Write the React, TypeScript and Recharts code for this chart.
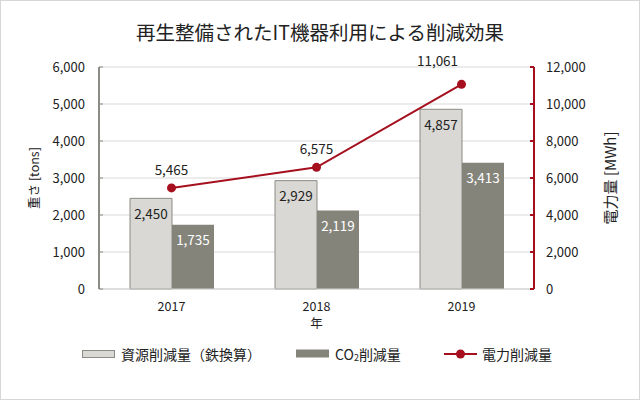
import React from 'react';
import {
  ComposedChart,
  Bar,
  Line,
  XAxis,
  YAxis,
  CartesianGrid,
  LabelList,
  Legend,
  Label,
} from 'recharts';

const years = ['2017', '2018', '2019'];
const resourceReduction = [2450, 2929, 4857];
const co2Reduction = [1735, 2119, 3413];
const powerReduction = [5465, 6575, 11061];
const leftTicks = [0, 1000, 2000, 3000, 4000, 5000, 6000];
const rightTicks = [0, 2000, 4000, 6000, 8000, 10000, 12000];

const seriesNames = ['資源削減量（鉄換算）', 'CO2削減量', '電力削減量'];
const titleText = '再生整備されたIT機器利用による削減効果';
const leftAxisTitle = '重さ [tons]';
const rightAxisTitle = '電力量 [MWh]';
const xAxisTitle = '年';

const data = years.map((y, i) => ({
  year: y,
  resource: resourceReduction[i],
  co2: co2Reduction[i],
  power: powerReduction[i],
}));

const FONT = '"Noto Sans CJK JP", "Noto Sans", sans-serif';
const LIGHT = '#d9d8d4';
const LIGHT_STROKE = '#8c8b84';
const DARK = '#85847b';
const RED = '#a50f1e';
const TEXT = '#222222';

const fmt = (v: any) => Number(v).toLocaleString('en-US');

const LineLabel = (props: any) => {
  const { x, y, value, index } = props;
  const last = index === powerReduction.length - 1;
  const dx = last ? -24 : 0;
  const dy = last ? -5 : 0;
  return (
    <text
      x={x + dx}
      y={y - 13 + dy}
      textAnchor="middle"
      fill={TEXT}
      fontSize={13.5}
      fontFamily={FONT}
    >
      {fmt(value)}
    </text>
  );
};

const LegendContent = () => {
  return (
    <svg width={640} height={30} style={{ display: 'block' }}>
      <rect x={82.5} y={10.5} width={32} height={7} fill={LIGHT} stroke={LIGHT_STROKE} strokeWidth={1} />
      <text x={121} y={20} fontSize={14} fill={TEXT} fontFamily={FONT}>
        {seriesNames[0]}
      </text>
      <rect x={296} y={9.5} width={33} height={8} fill={DARK} />
      <text x={335} y={20} fontSize={14} fill={TEXT} fontFamily={FONT}>
        CO<tspan fontSize={9} dy={1}>2</tspan>
        <tspan dy={-1}>削減量</tspan>
      </text>
      <line x1={444} x2={477} y1={14} y2={14} stroke={RED} strokeWidth={2} />
      <circle cx={460.5} cy={14} r={4.5} fill={RED} />
      <text x={482} y={20} fontSize={14} fill={TEXT} fontFamily={FONT}>
        {seriesNames[2]}
      </text>
    </svg>
  );
};

const LeftTitle = (props: any) => {
  const vb = props.viewBox || {};
  const cx = vb.x - 6;
  const cy = vb.y + vb.height / 2;
  return (
    <text
      x={cx}
      y={cy}
      transform={`rotate(-90 ${cx} ${cy})`}
      textAnchor="middle"
      dominantBaseline="central"
      fontSize={12.5}
      fill={TEXT}
      fontFamily={FONT}
    >
      {leftAxisTitle}
    </text>
  );
};

const RightTitle = (props: any) => {
  const vb = props.viewBox || {};
  const cx = vb.x + 75;
  const cy = vb.y + vb.height / 2;
  return (
    <text
      x={cx}
      y={cy}
      transform={`rotate(-90 ${cx} ${cy})`}
      textAnchor="middle"
      dominantBaseline="central"
      fontSize={15}
      fill={TEXT}
      fontFamily={FONT}
    >
      {rightAxisTitle}
    </text>
  );
};

export default function App() {
  return (
    <div
      style={{
        position: 'fixed',
        left: 0,
        top: 0,
        width: 640,
        height: 400,
        background: '#ffffff',
        fontFamily: FONT,
      }}
    >
      <div
        style={{
          position: 'absolute',
          left: 0,
          top: 0,
          width: 640,
          height: 400,
          boxSizing: 'border-box',
          border: '1px solid #d6d6d6',
          pointerEvents: 'none',
          zIndex: 2,
        }}
      />
      <div
        style={{
          position: 'absolute',
          top: 21,
          left: 0,
          width: 640,
          textAlign: 'center',
          fontSize: 19.5,
          lineHeight: '22px',
          color: TEXT,
          fontFamily: FONT,
        }}
      >
        {titleText}
      </div>
      <ComposedChart
        width={640}
        height={400}
        data={data}
        margin={{ top: 67, right: 46, bottom: 81, left: 39 }}
        barGap={0}
      >
        <CartesianGrid vertical={false} stroke="#d9d9d9" yAxisId="left" />
        <XAxis
          dataKey="year"
          height={30}
          tickLine={false}
          tickSize={0}
          tickMargin={13}
          axisLine={{ stroke: '#cfcfcf', strokeWidth: 1 }}
          tick={{ fill: TEXT, fontSize: 12.5, fontFamily: FONT }}
        >
          <Label value={xAxisTitle} position="insideBottom" offset={-9} fill={TEXT} fontSize={12.5} fontFamily={FONT} />
        </XAxis>
        <YAxis
          yAxisId="left"
          orientation="left"
          width={60}
          domain={[0, 6000]}
          ticks={leftTicks}
          interval={0}
          tickFormatter={fmt}
          tickSize={-4}
          tickMargin={18}
          axisLine={{ stroke: LIGHT_STROKE, strokeWidth: 2 }}
          tickLine={{ stroke: LIGHT_STROKE, strokeWidth: 1 }}
          tick={{ fill: TEXT, fontSize: 13, fontFamily: FONT }}
        >
          <Label content={<LeftTitle />} />
        </YAxis>
        <YAxis
          yAxisId="right"
          orientation="right"
          width={60}
          domain={[0, 12000]}
          ticks={rightTicks}
          interval={0}
          tickFormatter={fmt}
          tickSize={-4}
          tickMargin={16}
          axisLine={{ stroke: RED, strokeWidth: 2 }}
          tickLine={{ stroke: RED, strokeWidth: 2 }}
          tick={{ fill: TEXT, fontSize: 13, fontFamily: FONT, textAnchor: 'start' }}
        >
          <Label content={<RightTitle />} />
        </YAxis>
        <Bar
          yAxisId="left"
          dataKey="resource"
          name={seriesNames[0]}
          fill={LIGHT}
          stroke={LIGHT_STROKE}
          strokeWidth={1}
          barSize={42}
          isAnimationActive={false}
        >
          <LabelList
            dataKey="resource"
            position="insideTop"
            offset={11}
            formatter={fmt}
            fill={TEXT}
            fontSize={13.5}
            fontFamily={FONT}
          />
        </Bar>
        <Bar
          yAxisId="left"
          dataKey="co2"
          name={seriesNames[1]}
          fill={DARK}
          barSize={42}
          isAnimationActive={false}
        >
          <LabelList
            dataKey="co2"
            position="insideTop"
            offset={11}
            formatter={fmt}
            fill="#ffffff"
            fontSize={13.5}
            fontFamily={FONT}
          />
        </Bar>
        <Line
          yAxisId="right"
          dataKey="power"
          name={seriesNames[2]}
          stroke={RED}
          strokeWidth={2}
          dot={{ r: 4.5, fill: RED, stroke: RED, strokeWidth: 0 }}
          activeDot={false}
          isAnimationActive={false}
        >
          <LabelList dataKey="power" content={<LineLabel />} />
        </Line>
        <Legend
          layout="horizontal"
          verticalAlign="middle"
          align="center"
          wrapperStyle={{ top: 340, left: 0, width: 640, height: 30 }}
          content={<LegendContent />}
        />
      </ComposedChart>
    </div>
  );
}
